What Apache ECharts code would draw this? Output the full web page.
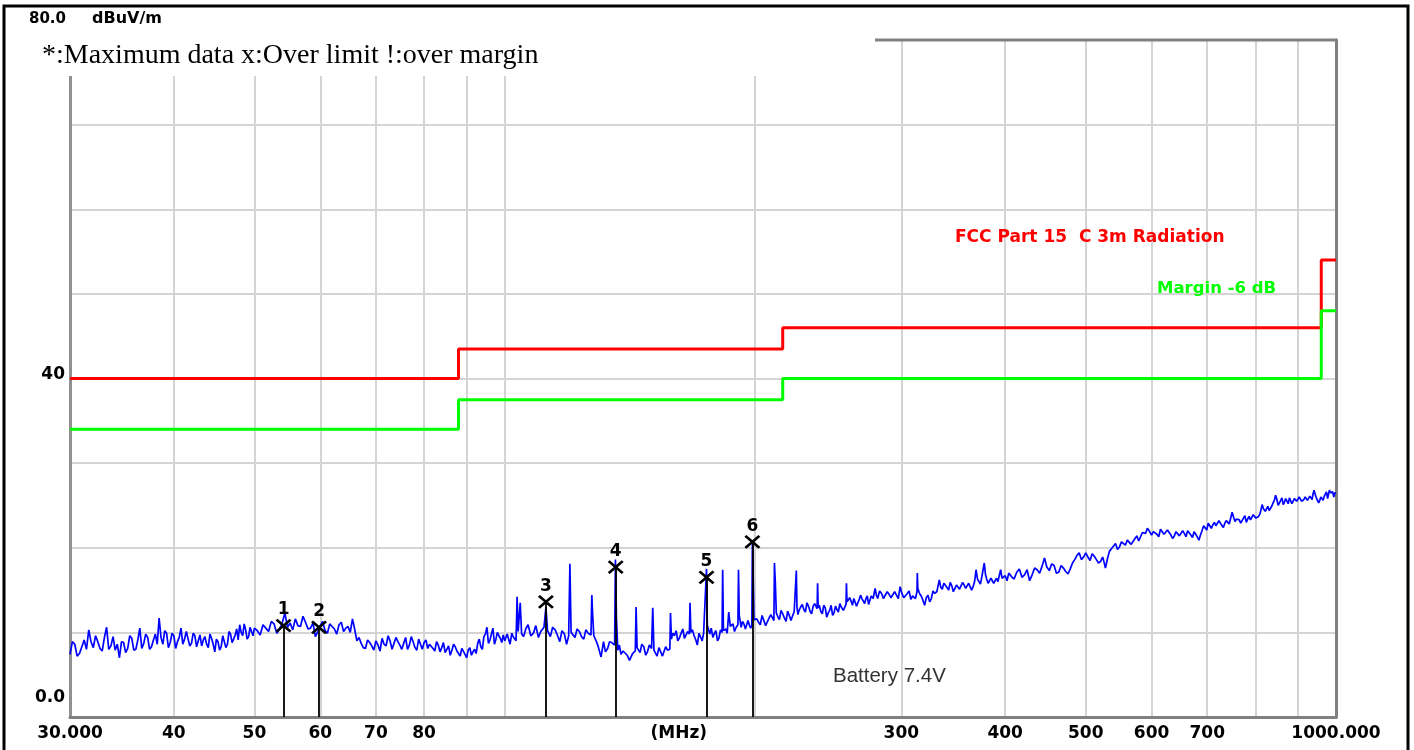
<!DOCTYPE html>
<html><head><meta charset="utf-8">
<script src="https://cdn.jsdelivr.net/npm/echarts@6/dist/echarts.min.js"></script>
<style>html,body{margin:0;padding:0;background:#fff}#c{width:1414px;height:750px}</style>
</head><body><div id="c"></div>
<script>
// ---- data ----
const gridFreqs = [30,40,50,60,70,80,90,100,200,300,400,500,600,700,800,900,1000];
const labelFreqs = [30,40,50,60,70,80,162,300,400,500,600,700,1000];
const labelText = {30:'30.000',162:'(MHz)',1000:'1000.000'};
const limitLine = [[30,40],[88,40],[88,43.5],[216,43.5],[216,46],[960,46],[960,54],[1000,54]];
const marginLine = [[30,34],[88,34],[88,37.5],[216,37.5],[216,40],[960,40],[960,48],[1000,48]];
const markerFreqs = [54.2,59.8,112.1,136.0,174.9,198.6];
const markerValues = [10.8,10.6,13.6,17.7,16.5,20.7];
const markerNames = ['1','2','3','4','5','6'];
// measured trace [MHz, dBuV/m]
const traceLow = [
[30.0,7.4],[30.2,8.9],[30.4,8.6],[30.6,7.2],[30.8,7.5],[31.0,8.3],[31.2,9.1],[31.4,8.0],[31.6,10.3],[31.8,8.9],
[32.0,8.2],[32.2,9.6],[32.4,8.9],[32.6,8.1],[32.8,7.8],[33.0,9.4],[33.2,10.6],[33.4,8.0],[33.6,8.4],[33.8,9.5],
[34.0,7.9],[34.2,8.6],[34.4,7.0],[34.6,8.9],[34.8,8.8],[35.0,7.6],[35.2,8.1],[35.4,9.6],[35.6,9.3],[35.8,7.9],
[36.0,8.0],[36.2,9.1],[36.4,10.5],[36.6,8.1],[36.8,8.7],[37.0,9.8],[37.2,9.4],[37.4,8.0],[37.6,8.3],[37.8,9.1],
[38.0,9.8],[38.2,8.6],[38.4,11.7],[38.6,9.4],[38.8,8.6],[39.0,10.2],[39.2,9.9],[39.4,8.2],[39.6,8.8],[39.8,9.9],
[40.0,9.6],[40.2,8.1],[40.4,8.9],[40.6,9.4],[40.8,10.5],[41.0,8.6],[41.2,9.2],[41.4,10.1],[41.6,9.9],[41.8,8.4],
[42.0,8.7],[42.2,9.9],[42.4,9.6],[42.6,8.3],[42.8,9.0],[43.0,9.7],[43.2,8.4],[43.4,9.1],[43.6,9.5],[43.8,8.6],
[44.0,8.2],[44.2,9.8],[44.4,9.3],[44.6,8.6],[44.8,7.7],[45.0,9.2],[45.2,8.9],[45.4,7.9],[45.6,8.3],[45.8,9.6],
[46.0,9.4],[46.2,8.2],[46.4,8.6],[46.6,10.1],[46.8,9.8],[47.0,8.8],[47.2,9.2],[47.4,9.7],[47.6,10.4],[47.8,9.1],
[48.0,10.9],[48.2,10.0],[48.4,9.6],[48.6,11.0],[48.8,10.3],[49.0,9.2],[49.2,9.5],[49.4,10.6],[49.6,10.1],[49.8,9.6],
[50.0,10.5],[50.4,10.2],[50.8,9.7],[51.2,10.9],[51.6,10.5],[52.0,10.1],[52.4,11.3],[52.8,11.0],[53.2,9.9],[53.6,10.4],
[54.0,11.1],[54.4,12.3],[54.8,10.6],[55.2,11.1],[55.6,10.3],[56.0,11.6],[56.4,10.8],[56.8,10.7],[57.2,11.9],[57.6,11.2],
[58.0,10.4],[58.4,10.5],[58.8,11.1],[59.2,9.5],[59.6,10.1],[60.0,10.8],[60.4,11.3],[60.8,10.2],[61.2,9.9],[61.6,11.0],
[62.0,10.7],[62.4,10.4],[62.8,9.8],[63.2,10.9],[63.6,11.2],[64.0,10.1],[64.4,10.5],[64.8,10.7],[65.2,10.0],[65.6,11.6],
[66.0,10.4],[66.4,9.0],[66.8,9.4],[67.2,8.7],[67.6,8.2],[68.0,8.1],[68.4,9.1],[68.8,8.8],[69.2,8.4],[69.6,7.9],
[70.0,9.0],[70.4,8.5],[70.8,7.8],[71.2,9.3],[71.6,8.6],[72.0,8.4],[72.4,9.6],[72.8,9.0],[73.2,8.0],[73.6,8.2],
[74.0,9.4],[74.4,8.9],[74.8,8.5],[75.2,8.0],[75.6,8.7],[76.0,9.4],[76.4,8.0],[76.8,8.5],[77.2,9.5],[77.6,8.9],
[78.0,8.2],[78.4,7.9],[78.8,9.2],[79.2,8.6],[79.6,8.0],[80.0,8.8],[80.4,9.1],[80.8,8.1],[81.2,8.6],[81.6,8.7],
[82.0,8.1],[82.4,7.8],[82.8,8.9],[83.2,8.5],[83.6,7.7],[84.0,8.2],[84.4,8.8],[84.8,7.6],[85.2,8.0],[85.6,8.4],
[86.0,7.3],[86.4,7.9],[86.8,8.6],[87.2,8.3],[87.6,7.8],[88.0,7.5],[88.4,7.2],[88.8,8.1],[89.2,8.3],[89.6,7.4],
[90.0,7.0],[90.4,7.9],[90.8,8.2],[91.2,7.3],[91.6,7.7],[92.0,8.0],[92.4,7.5],[92.8,8.7],[93.2,9.2],[93.6,8.3],
[94.0,8.0],[94.4,9.5],[94.8,9.8],[95.2,10.6],[95.6,8.7],[96.0,9.1],[96.4,9.8],[96.8,10.5],[97.2,8.6],[97.6,9.2],
[98.0,10.0],[98.4,9.6],[98.8,9.3],[99.2,8.8],[99.6,9.7]
];
const traceMid = [
[100.0,9.0],[100.7,9.8],[101.5,8.6],[102.0,9.9],[102.5,9.4],[103.2,9.0],[103.5,14.2],[103.8,10.1],[104.4,13.5],[104.8,9.8],
[105.4,9.5],[106.0,10.4],[106.7,10.9],[107.5,9.6],[108.3,9.9],[109.0,10.8],[109.8,9.4],[110.5,10.1],[111.5,10.6],[112.1,13.0],
[112.6,10.2],[113.5,9.5],[114.2,10.6],[115.0,10.3],[115.8,9.6],[116.5,8.9],[117.2,10.2],[118.0,9.8],[118.7,8.6],[119.4,9.6],
[119.8,18.1],[120.2,10.0],[121.5,9.4],[122.2,10.4],[123.0,10.1],[123.7,9.5],[124.5,9.2],[125.2,10.3],[126.0,9.9],[127.0,9.7],
[127.3,14.4],[127.6,12.0],[128.0,9.6],[128.7,9.1],[129.5,8.4],[130.0,8.2],[130.6,7.1],[131.5,8.9],[132.2,7.7],[133.0,8.1],
[133.7,8.9],[134.5,8.8],[135.6,8.5],[135.9,18.6],[136.3,11.5],[136.8,7.9],[137.4,8.5],[138.0,7.4],[138.8,7.8],[139.5,8.0],
[140.4,7.3],[141.3,6.7],[142.5,7.5],[143.6,7.8],[143.9,13.0],[144.3,8.2],[145.5,7.6],[146.2,8.6],[147.0,8.3],[147.8,7.3],
[148.5,7.7],[149.3,8.5],[150.2,8.1],[150.7,12.9],[151.2,7.9],[152.5,7.2],[153.3,8.2],[154.0,8.0],[154.8,7.2],[155.5,7.4],
[156.2,8.3],[157.0,7.9],[158.0,8.0],[158.3,12.3],[158.7,9.2],[159.3,9.9],[160.0,9.6],[160.8,10.2],[161.5,9.0],[162.2,9.3],
[163.0,9.9],[163.8,10.4],[164.5,9.3],[165.2,9.5],[166.0,10.1],[166.8,9.8],[167.1,13.5],[167.5,10.0],[168.2,10.3],[169.0,9.6],
[169.8,9.1],[170.5,8.5],[171.3,9.9],[172.0,9.7],[172.8,9.0],[173.5,9.9],[174.9,17.5],[175.3,10.8],[176.5,9.8],[177.2,10.5],
[178.0,9.4],[178.8,9.9],[179.5,10.2],[180.3,9.0],[181.0,9.3],[181.8,10.3],[182.6,10.0],[182.9,17.4],[183.3,10.2],[184.5,10.4],
[185.2,9.9],[186.0,12.4],[186.8,10.7],[187.5,10.5],[188.2,11.0],[189.0,10.1],[189.9,10.6],[190.8,10.9],[191.1,17.4],[191.5,12.0],
[192.5,10.6],[193.2,11.3],[194.0,11.0],[194.8,10.4],[195.5,10.3],[196.2,11.4],[197.0,10.8],[197.7,10.5],[198.3,10.9],[198.6,20.6],
[199.0,16.9],[199.5,11.5]
];
const traceHigh = [
[201.0,11.6],[202.0,11.2],[203.0,10.9],[204.0,12.0],[205.0,11.8],[206.0,10.8],[207.0,11.0],[208.0,11.7],[209.0,12.1],[210.8,11.4],
[211.1,18.2],[211.6,16.0],[212.2,12.3],[213.0,11.9],[214.0,11.5],[215.0,12.6],[216.0,12.2],[217.0,11.7],[218.0,11.3],[219.0,12.5],
[220.0,12.0],[221.0,11.4],[222.0,11.6],[223.0,12.5],[224.0,12.3],[224.3,17.3],[224.7,13.0],[225.3,12.1],[226.0,12.6],[227.0,13.0],
[228.0,13.3],[229.0,12.7],[230.0,12.4],[231.0,13.5],[232.0,13.1],[233.0,12.5],[234.0,12.2],[235.0,13.1],[236.0,13.4],[237.6,12.8],
[237.9,15.8],[238.3,12.9],[239.0,13.2],[240.0,12.5],[241.0,12.2],[242.0,13.2],[243.0,12.9],[244.0,11.8],[245.0,12.3],[246.0,12.6],
[247.0,13.2],[248.0,12.0],[249.0,12.3],[250.0,13.1],[251.0,12.7],[252.0,12.4],[253.0,13.4],[254.0,13.0],[255.5,12.6],[257.4,13.3],
[257.7,15.8],[258.1,13.6],[259.0,13.4],[260.0,14.1],[261.0,13.7],[262.0,13.2],[263.0,14.0],[264.0,14.2],[265.0,13.1],[266.0,13.5],
[267.0,13.9],[268.0,14.4],[269.0,14.0],[270.0,13.7],[271.0,13.4],[272.0,14.0],[273.0,14.3],[274.0,13.3],[275.0,13.8],[276.0,14.3],
[277.5,14.0],[279.0,15.2],[280.0,14.4],[281.0,14.0],[282.5,14.9],[284.0,14.6],[285.5,14.0],[287.0,13.8],[288.5,14.8],[290.0,14.5],
[291.5,14.1],[293.0,13.9],[294.5,14.8],[296.0,14.4],[297.5,14.0],[299.0,15.4],[300.5,14.6],[302.0,14.1],[303.5,14.0],[305.0,14.6],
[306.5,14.9],[308.0,13.9],[309.5,14.3],[311.0,14.5],[312.0,14.0],[313.3,14.8],[313.6,17.0],[314.0,15.2],[315.5,14.6],[317.0,14.3],
[318.5,13.8],[320.0,13.2],[321.5,14.1],[323.0,14.4],[324.5,13.6],[326.0,14.0],[327.5,14.9],[329.0,14.6],[331.0,14.8],[333.3,16.2],
[334.5,15.4],[336.0,15.1],[337.5,15.8],[339.0,15.6],[340.5,15.3],[342.0,15.0],[343.5,15.9],[345.0,15.5],[346.5,14.8],[348.0,15.2],
[349.5,15.6],[351.0,15.8],[352.5,15.1],[354.0,15.3],[355.5,15.9],[357.0,15.6],[358.5,15.2],[360.0,15.0],[361.5,15.8],[363.0,15.7],
[364.5,15.0],[366.0,15.4],[367.5,16.0],[369.0,17.4],[370.5,16.3],[372.0,16.0],[373.5,15.7],[375.0,16.6],[376.3,16.4],[377.5,18.2],
[378.8,16.8],[380.0,16.3],[381.5,15.8],[383.0,15.9],[384.5,16.4],[386.0,16.1],[387.5,15.8],[389.0,15.6],[390.5,16.4],[392.0,16.0],
[393.5,15.9],[395.0,17.4],[396.5,16.4],[398.0,16.2],[400.0,16.7],[402.0,16.1],
[404,17.0],[407,16.6],[410,16.3],[413,17.1],[416,17.5],[419,16.5],[422,16.8],[425,17.4],[428,16.1],[431,16.8],
[434,17.6],[437,17.4],[440,17.0],[443,17.8],[446,18.8],[449,17.7],[452,17.3],[455,18.1],[458,17.9],[461,17.0],
[464,17.1],[467,17.9],[470,17.6],[473,17.2],[476,16.9],[479,17.5],[482,18.2],[485,18.6],[488,19.1],[491,19.4],
[494,18.6],[497,18.9],[500,19.4],[503,18.9],[506,18.5],[509,19.3],[512,19.0],[515,18.6],[518,18.2],[521,18.4],
[524,18.9],[526,18.3],[528,17.6],[531,18.7],[534,19.6],[537,19.9],[540,20.2],[543,20.5],[546,19.8],[549,20.1],
[552,20.7],[555,20.5],[558,20.3],[561,20.9],[564,21.0],[567,20.4],[570,20.6],[573,21.1],[576,21.4],[579,20.8],
[582,21.0],[585,21.8],[588,21.6],[590,21.7],[593,22.3],[596,22.0],[600,21.5],[603,21.9],[606,22.0],[609,21.6],
[612,21.3],[615,22.2],[618,21.9],[621,21.6],[624,21.4],[627,22.1],[630,21.8],[633,21.5],[636,21.1],[639,21.4],
[642,21.9],[645,22.1],[648,21.4],[651,21.6],[654,22.0],[657,21.7],[660,21.3],[663,22.0],[666,21.8],[669,21.5],
[672,21.2],[675,21.9],[678,21.6],[681,21.3],[684,20.9],[687,21.5],[690,22.0],[693,22.6],[696,22.4],[699,22.1],
[702,22.9],[705,22.6],[708,22.3],[711,22.7],[714,23.0],[717,22.6],[720,22.5],[723,23.2],[726,22.9],[729,22.7],
[732,22.4],[735,22.9],[738,23.2],[741,23.4],[744,22.8],[747,23.0],[750,24.2],[753,23.6],[756,23.1],[759,23.4],
[762,23.6],[765,23.3],[768,22.9],[771,23.1],[774,23.5],[777,23.8],[780,23.0],[783,23.4],[786,23.7],[789,23.3],
[792,23.2],[795,23.9],[798,23.8],[801,23.5],[804,23.4],[807,23.7],[810,24.0],[812,24.4],[815,25.1],[818,24.6],
[822,24.3],[825,24.6],[828,24.9],[831,24.4],[834,24.5],[837,24.9],[840,25.3],[843,25.6],[846,26.2],[849,25.7],
[852,25.0],[855,25.3],[858,25.6],[861,25.9],[864,25.1],[867,25.4],[870,25.8],[873,25.6],[876,25.2],[879,25.9],
[882,25.7],[885,25.2],[888,25.4],[891,25.8],[894,25.9],[897,25.5],[900,25.3],[903,26.0],[906,25.8],[909,25.5],
[912,25.4],[915,25.7],[918,26.0],[921,26.2],[924,25.6],[927,25.8],[930,26.1],[933,25.9],[936,25.7],[938,26.3],
[941,26.8],[944,26.3],[947,25.9],[950,25.6],[953,25.3],[956,25.6],[959,26.0],[962,26.2],[965,25.6],[968,26.1],
[971,26.2],[974,26.6],[977,25.8],[979,26.2],[982,26.8],[985,26.5],[988,26.3],[991,26.6],[994,26.0],[997,26.5],[1000,26.4]
];
const trace = traceLow.concat(traceMid, traceHigh).sort((a,b)=>a[0]-b[0]);

// ---- chart ----
const chart = echarts.init(document.getElementById('c'), null, {renderer:'canvas'});
const boldFont = 'DejaVu Sans';
chart.setOption({
  animation:false,
  backgroundColor:'#fff',
  grid:{left:70, right:78, top:40, bottom:33, containLabel:false},
  xAxis:{
    type:'log', logBase:10, min:30, max:1000,
    axisLine:{show:true, onZero:false, lineStyle:{color:'#808080', width:3}},
    axisTick:{show:false, customValues:gridFreqs},
    axisLabel:{customValues:labelFreqs, formatter:v=>{const r=Math.round(v);return labelText[r]||String(r);},
      fontFamily:boldFont, fontWeight:'bold', fontSize:17, color:'#000', margin:8},
    splitLine:{show:true, lineStyle:{color:'#d4d4d4', width:2}}
  },
  yAxis:[{
    type:'value', min:0, max:80, interval:10,
    axisLine:{show:true, lineStyle:{color:'#909090', width:3}},
    axisTick:{show:false},
    axisLabel:{formatter:v=>{if(v===0)return '{a|0.0}'; if(v===40)return '{b|40}'; return '';},
      margin:5,
      rich:{a:{fontFamily:boldFont,fontWeight:'bold',fontSize:17,color:'#000',padding:[0,0,38,0]},
            b:{fontFamily:boldFont,fontWeight:'bold',fontSize:17,color:'#000',padding:[0,0,8,0]}}},
    splitLine:{show:true, lineStyle:{color:'#d4d4d4', width:2}}
  },{
    type:'value', min:0, max:80, position:'right',
    axisLine:{show:true, lineStyle:{color:'#808080', width:3}},
    axisTick:{show:false}, axisLabel:{show:false}, splitLine:{show:false}
  }],
  series:[
    {type:'line', name:'trace', data:trace, symbol:'none', lineStyle:{color:'#0000ff', width:1.7}, z:3},
    {type:'line', name:'limit', data:limitLine, symbol:'none', lineStyle:{color:'#ff0000', width:3}, z:4},
    {type:'line', name:'margin', data:marginLine, symbol:'none', lineStyle:{color:'#00ff00', width:3}, z:4},
    {type:'scatter', name:'markers', z:5,
      data:markerFreqs.map((f,i)=>[f,markerValues[i],markerNames[i]]),
      symbol:'path://M0,0L10,10M10,0L0,10', symbolSize:[14,12],
      itemStyle:{color:'rgba(0,0,0,0)', borderColor:'#000', borderWidth:2.6, opacity:1},
      label:{show:true, position:'top', distance:0, formatter:p=>p.data[2],
        fontFamily:boldFont, fontWeight:'bold', fontSize:17, color:'#000'},
      markLine:{silent:true, symbol:['none','none'], label:{show:false},
        lineStyle:{color:'#000', width:1.8, type:'solid', opacity:1},
        data:markerFreqs.map((f,i)=>[{coord:[f,markerValues[i]]},{coord:[f,0]}])}
    }
  ],
  graphic:[
    {type:'rect', z:10, shape:{x:6,y:8,width:869,height:68}, style:{fill:'#fff'}},
    {type:'line', z:11, shape:{x1:875,y1:40,x2:1337,y2:40}, style:{stroke:'#808080', lineWidth:3}},
    {type:'rect', z:12, shape:{x:4,y:6,width:1404,height:760}, style:{fill:'none', stroke:'#000', lineWidth:3}},
    {type:'text', z:20, style:{x:66,y:19,text:'80.0',align:'right',verticalAlign:'middle',font:'bold 15px "DejaVu Sans"',fill:'#000'}},
    {type:'text', z:20, style:{x:92,y:19,text:'dBuV/m',align:'left',verticalAlign:'middle',font:'bold 16px "DejaVu Sans"',fill:'#000'}},
    {type:'text', z:20, style:{x:42,y:56,text:'*:Maximum data x:Over limit !:over margin',align:'left',verticalAlign:'middle',font:'28px "Liberation Serif"',fill:'#000'}},
    {type:'text', z:20, style:{x:955,y:238,text:'FCC Part 15  C 3m Radiation',align:'left',verticalAlign:'middle',font:'bold 17px "DejaVu Sans"',fill:'#ff0000'}},
    {type:'text', z:20, style:{x:1157,y:289,text:'Margin -6 dB',align:'left',verticalAlign:'middle',font:'bold 16.5px "DejaVu Sans"',fill:'#00ff00'}},
    {type:'text', z:20, style:{x:833,y:676,text:'Battery 7.4V',align:'left',verticalAlign:'middle',font:'20.5px "Liberation Sans"',fill:'#333'}}
  ]
});
</script></body></html>
